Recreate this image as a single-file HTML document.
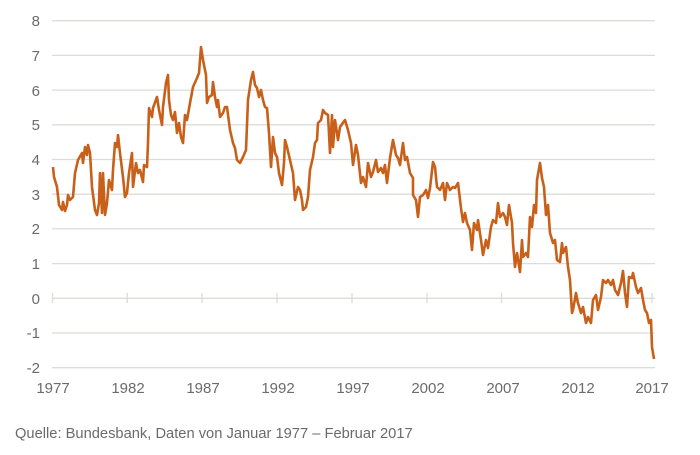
<!DOCTYPE html>
<html><head><meta charset="utf-8"><style>
body{margin:0;background:#fff;width:700px;height:450px;overflow:hidden}
text{font-family:"Liberation Sans",Arial,sans-serif;fill:#6b6b6b}
</style></head><body>
<svg width="700" height="450" viewBox="0 0 700 450">
<g stroke="#dcdcd8" stroke-width="1.3">
<line x1="52" y1="20.7" x2="655" y2="20.7"/>
<line x1="52" y1="55.4" x2="655" y2="55.4"/>
<line x1="52" y1="90.1" x2="655" y2="90.1"/>
<line x1="52" y1="124.8" x2="655" y2="124.8"/>
<line x1="52" y1="159.5" x2="655" y2="159.5"/>
<line x1="52" y1="194.2" x2="655" y2="194.2"/>
<line x1="52" y1="228.9" x2="655" y2="228.9"/>
<line x1="52" y1="263.6" x2="655" y2="263.6"/>
<line x1="52" y1="298.3" x2="655" y2="298.3"/>
<line x1="52" y1="333" x2="655" y2="333"/>
<line x1="52" y1="367.7" x2="655" y2="367.7"/>
<line x1="52.5" y1="293" x2="52.5" y2="303"/>
<line x1="127.3" y1="293" x2="127.3" y2="303"/>
<line x1="202" y1="293" x2="202" y2="303"/>
<line x1="277" y1="293" x2="277" y2="303"/>
<line x1="352" y1="293" x2="352" y2="303"/>
<line x1="427" y1="293" x2="427" y2="303"/>
<line x1="501.5" y1="293" x2="501.5" y2="303"/>
<line x1="576.5" y1="293" x2="576.5" y2="303"/>
<line x1="652" y1="293" x2="652" y2="303"/>
</g>
<g font-size="15" text-anchor="end">
<text x="40" y="26">8</text><text x="40" y="61">7</text><text x="40" y="96">6</text>
<text x="40" y="130">5</text><text x="40" y="165">4</text><text x="40" y="200">3</text>
<text x="40" y="234">2</text><text x="40" y="269">1</text><text x="40" y="304">0</text>
<text x="40" y="338">-1</text><text x="40" y="373">-2</text>
</g>
<g font-size="15" text-anchor="middle">
<text x="53" y="393">1977</text><text x="128" y="393">1982</text><text x="203" y="393">1987</text>
<text x="278" y="393">1992</text><text x="353" y="393">1997</text><text x="428" y="393">2002</text>
<text x="503" y="393">2007</text><text x="578" y="393">2012</text><text x="652" y="393">2017</text>
</g>
<text x="15" y="438" font-size="14.7">Quelle: Bundesbank, Daten von Januar 1977 – Februar 2017</text>
<polyline fill="none" stroke="#c8601a" stroke-width="2.6" stroke-linejoin="round" points="53,167 54,177 57,187 59,205 62,210 63,202 65,211 67,205 68,195 70,200 73,197 75,173 78,160 82,153 83,163 85,147 87,155 88,145 90,153 92,187 95,210 97,215 99,203 100,173 102,213 103,173 105,215 107,203 109,180 112,190 113,170 115,143 117,147 118,135 120,153 123,177 125,197 127,193 129,173 132,153 133,187 136,163 138,173 140,170 143,182 144,165 147,167 148,143 149,108 152,117 153,108 157,97 159,110 162,125 163,107 166,83 168,75 169,100 171,115 173,120 175,112 177,133 179,123 181,137 183,143 185,115 187,120 190,103 193,87 197,78 199,73 201,47 203,60 206,75 207,103 209,97 212,95 213,82 215,97 217,107 218,100 220,117 223,113 225,107 227,107 230,130 233,143 235,148 237,160 240,163 243,157 246,150 248,100 251,80 253,72 255,85 257,88 259,97 261,90 263,100 265,107 267,108 269,133 271,167 273,137 275,153 277,157 279,173 282,185 284,163 285,140 287,147 290,160 293,173 295,200 298,187 300,190 302,200 303,210 306,207 308,197 310,170 313,157 315,143 317,140 318,123 321,120 323,110 325,113 328,115 330,153 332,115 333,147 335,120 338,140 340,127 345,120 348,130 351,143 353,165 356,145 358,155 361,183 363,177 366,187 368,163 371,177 373,172 376,160 378,172 381,168 383,173 385,165 387,183 390,158 393,140 396,155 398,158 400,165 403,143 405,160 407,157 410,173 413,178 413,195 416,200 418,217 420,197 423,195 426,190 428,198 430,188 433,162 435,167 437,187 440,190 443,183 445,200 447,183 450,190 453,187 455,188 458,183 461,208 463,222 465,213 467,223 470,230 472,250 474,223 477,230 478,220 481,240 483,255 486,240 488,248 491,227 493,220 496,223 498,203 500,217 503,213 505,217 507,225 509,205 512,223 513,243 515,267 517,253 520,272 522,240 523,257 526,253 528,257 530,217 532,227 534,205 536,213 537,180 540,163 542,178 544,187 546,215 548,205 550,233 553,243 555,240 557,260 560,262 562,243 563,253 566,247 568,267 570,280 572,313 573,310 576,293 578,303 581,313 583,307 586,323 588,317 591,323 593,300 596,295 598,310 601,297 603,280 606,283 608,280 611,285 613,280 615,290 618,295 621,283 623,271 625,293 627,307 629,277 632,278 633,273 636,287 638,293 641,288 643,300 645,310 647,313 649,323 651,320 652,347 654,359"/>
</svg>
</body></html>
